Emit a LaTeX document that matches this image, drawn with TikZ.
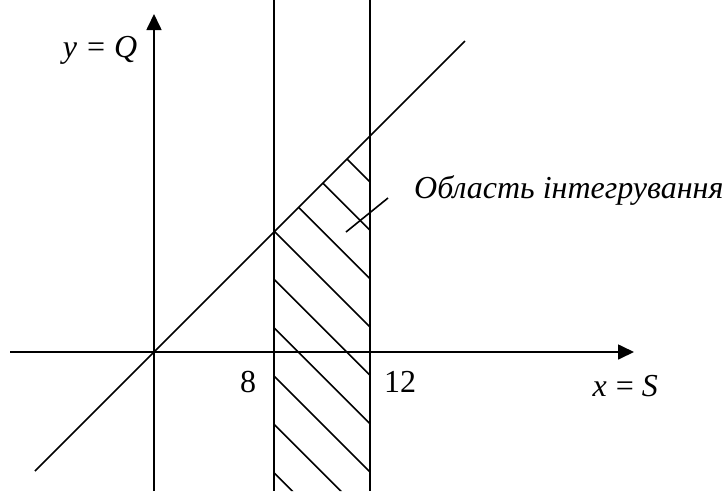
\documentclass[tikz,border=0pt]{standalone}
\usepackage{fontspec}
\setmainfont{Liberation Serif}
\usetikzlibrary{arrows.meta}
\begin{document}
\begin{tikzpicture}[x=1pt,y=-1pt,
  axis/.style={line width=1.7pt,-{Triangle[length=16pt,width=15pt]}},
  thin line/.style={line width=1.6pt},
  hatch/.style={line width=1.5pt},
  lbl/.style={inner sep=0pt,font=\fontsize{32}{38}\selectfont}]
\useasboundingbox (0,0) rectangle (724,491);
% axes
\coordinate (xs) at (10,352);
\coordinate (xe) at (634,352);
\coordinate (ys) at (154,491);
\coordinate (ye) at (154,14);
\draw[axis] (xs) -- (xe);
\draw[axis] (ys) -- (ye);
% vertical lines x=8, x=12
\coordinate (a1) at (274,0);
\coordinate (a2) at (274,491);
\coordinate (b1) at (370,0);
\coordinate (b2) at (370,491);
\draw[thin line] (a1) -- (a2);
\draw[thin line] (b1) -- (b2);
% diagonal y=x
\coordinate (d1) at (35,471);
\coordinate (d2) at (465,41);
\draw[thin line] (d1) -- (d2);
% hatching
\begin{scope}
\clip (274,232) -- (370,136) -- (370,491) -- (274,491) -- cycle;
\foreach \c in {-188,-139.7,-91.3,-43,5.3,53.7,102,150.3,198.7}
  \draw[hatch] (250,250+\c) -- (400,400+\c);
\end{scope}
% labels
\node[lbl,anchor=base] (ylab) at (100,57) {\textit{y}\hspace{10pt}=\hspace{9pt}\textit{Q}};
\node[lbl,anchor=base east] (xlab) at (658,396) {\textit{x}\hspace{9pt}=\hspace{8pt}\textit{S}};
\node[lbl,anchor=base] (l8) at (248,392) {8};
\node[lbl,anchor=base west] (l12) at (384,392) {12};
\node[lbl,anchor=base west] (reg) at (414,198) {\textit{Область інтегрування}};
% leader
\coordinate (p1) at (346,232);
\coordinate (p2) at (388,198);
\draw[thin line] (p1) -- (p2);
\end{tikzpicture}
\end{document}
